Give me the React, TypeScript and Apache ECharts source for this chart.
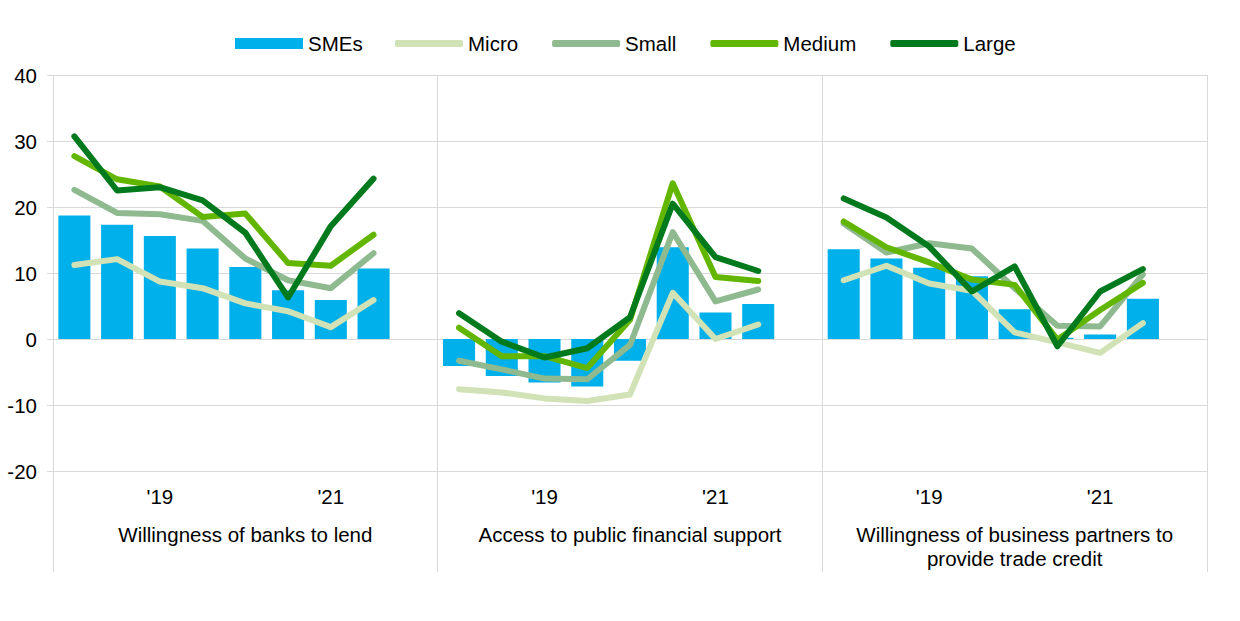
import React, { useEffect, useRef } from "react";
import * as echarts from "echarts";

const panelNames = [
  "Willingness of banks to lend",
  "Access to public financial support",
  "Willingness of business partners to\nprovide trade credit",
];
// 8 periods per panel plus one empty slot
const slotLabels = ["", "", "'19", "", "", "", "'21", "", ""];

const smes = [
  [18.7, 17.3, 15.6, 13.7, 10.9, 7.4, 5.9, 10.7],
  [-4.1, -5.6, -6.6, -7.2, -3.3, 13.9, 4.0, 5.3],
  [13.6, 12.2, 10.8, 9.5, 4.5, 0.2, 0.7, 6.1],
];
const micro = [
  [11.2, 12.1, 8.7, 7.7, 5.4, 4.2, 1.8, 5.9],
  [-7.6, -8.1, -9.0, -9.4, -8.4, 7.0, 0.0, 2.2],
  [8.9, 11.1, 8.4, 7.3, 1.0, -0.5, -2.1, 2.4],
];
const small = [
  [22.6, 19.1, 18.9, 17.9, 12.2, 8.9, 7.7, 13.0],
  [-3.3, -4.6, -6.0, -6.1, -0.9, 16.2, 5.7, 7.5],
  [17.5, 13.1, 14.5, 13.7, 7.7, 2.0, 1.9, 9.8],
];
const medium = [
  [27.7, 24.2, 23.1, 18.5, 19.0, 11.5, 11.1, 15.8],
  [1.7, -2.6, -2.6, -4.4, 2.9, 23.6, 9.4, 8.8],
  [17.8, 13.9, 11.6, 9.0, 8.2, -0.1, 4.4, 8.5],
];
const large = [
  [30.7, 22.5, 23.0, 21.0, 16.1, 6.3, 17.1, 24.3],
  [3.9, -0.4, -2.8, -1.4, 3.3, 20.5, 12.4, 10.3],
  [21.3, 18.4, 14.0, 7.2, 11.0, -1.1, 7.2, 10.6],
];
const yTicks = { min: -20, max: 40, interval: 10 };

const flat = (arr: number[][]) => {
  const out: (number | null)[] = [];
  arr.forEach((p) => {
    p.forEach((v) => out.push(v));
    out.push(null);
  });
  return out;
};

const FONT = "Liberation Sans, Arial, sans-serif";
const FS = 20.5;
const GRID = "#d9d9d9";

export default function App() {
  const ref = useRef<HTMLDivElement>(null);
  useEffect(() => {
    if (!ref.current) return;
    const chart = echarts.init(ref.current, undefined, { renderer: "svg" });
    const cats: string[] = [];
    panelNames.forEach((_, p) => slotLabels.forEach((_, i) => cats.push(p + "-" + i)));
    const lineSeries = (name: string, data: number[][], color: string, z: number) => ({
      name,
      type: "line",
      data: flat(data),
      symbol: "none",
      connectNulls: false,
      z,
      itemStyle: { color },
      lineStyle: { color, width: 6, cap: "round", join: "round" },
    });
    const legendText = { fontSize: FS, color: "#000", fontFamily: FONT };
    chart.setOption({
      animation: false,
      textStyle: { fontFamily: FONT },
      legend: [
        {
          top: 28,
          left: 230,
          itemWidth: 68,
          itemHeight: 11,
          textStyle: legendText,
          data: [{ name: "SMEs", icon: "rect" }],
        },
        {
          top: 28,
          left: 390,
          itemWidth: 68,
          itemHeight: 7,
          itemGap: 34,
          textStyle: legendText,
          data: [
            { name: "Micro", icon: "roundRect" },
            { name: "Small", icon: "roundRect" },
            { name: "Medium", icon: "roundRect" },
            { name: "Large", icon: "roundRect" },
          ],
        },
      ],
      grid: { left: 53, right: 33, top: 75, bottom: 150 },
      xAxis: [
        {
          type: "category",
          data: cats,
          position: "bottom",
          axisLine: { show: false },
          axisTick: { show: false },
          splitLine: { show: false },
          axisLabel: {
            interval: 0,
            margin: 15,
            fontSize: FS,
            color: "#000",
            fontFamily: FONT,
            formatter: (v: string) => slotLabels[Number(v.split("-")[1])],
          },
        },
        {
          type: "category",
          data: panelNames,
          position: "bottom",
          axisLine: { show: false },
          axisTick: { show: true, interval: 0, length: 101, lineStyle: { color: GRID, width: 1 } },
          splitLine: { show: true, interval: 0, lineStyle: { color: GRID, width: 1 } },
          axisLabel: {
            interval: 0,
            margin: 51,
            fontSize: FS,
            lineHeight: 24,
            color: "#000",
            fontFamily: FONT,
          },
        },
      ],
      yAxis: {
        type: "value",
        min: yTicks.min,
        max: yTicks.max,
        interval: yTicks.interval,
        axisLine: { show: false },
        axisTick: { show: true, length: 6, lineStyle: { color: GRID } },
        splitLine: { lineStyle: { color: GRID, width: 1 } },
        axisLabel: { fontSize: FS, color: "#000", margin: 16, fontFamily: FONT },
      },
      series: [
        {
          name: "SMEs",
          type: "bar",
          data: flat(smes),
          barWidth: "75%",
          itemStyle: { color: "#00b0ea" },
          z: 1,
        },
        lineSeries("Micro", micro, "#d0e2b6", 2),
        lineSeries("Small", small, "#8fb98f", 3),
        lineSeries("Medium", medium, "#63b600", 4),
        lineSeries("Large", large, "#007a1c", 5),
      ],
    });
    return () => chart.dispose();
  }, []);
  return (
    <div
      ref={ref}
      style={{ position: "fixed", left: 0, top: 0, width: 1240, height: 621, background: "#fff" }}
    />
  );
}
